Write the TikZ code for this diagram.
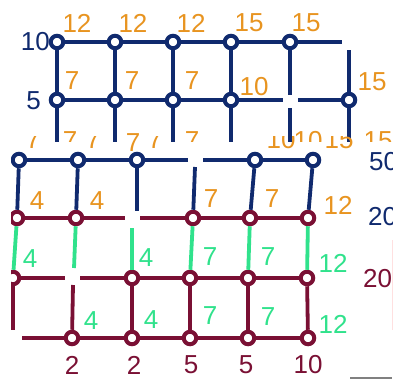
\documentclass[tikz,border=0pt]{standalone}
\usepackage{fontspec}
\setmainfont{Liberation Sans}
\definecolor{gridblue}{RGB}{16,42,110}
\definecolor{numorange}{RGB}{232,148,32}
\definecolor{numgreen}{RGB}{48,226,140}
\definecolor{gridred}{RGB}{122,16,52}
\tikzset{
  dot/.style={circle,draw,fill=white,line width=4pt,inner sep=0pt,minimum size=12.5pt},
  num/.style={font=\fontsize{26}{26}\selectfont,inner sep=0pt},
  wire/.style={line width=3.8pt},
}
\begin{document}
\begin{tikzpicture}[x=1pt,y=-1pt]
  \useasboundingbox[fill=white] (0,0) rectangle (395,383);
  % upper grid
  \begin{scope}
    \clip (0,0) rectangle (395,141);
    \node[dot,draw=gridblue] (t11) at (57,42) {};
    \node[dot,draw=gridblue] (t12) at (115,42) {};
    \node[dot,draw=gridblue] (t13) at (173,42) {};
    \node[dot,draw=gridblue] (t14) at (231,42) {};
    \node[dot,draw=gridblue] (t15) at (290,42) {};
    \node[dot,draw=gridblue] (t21) at (57,100) {};
    \node[dot,draw=gridblue] (t22) at (115,100) {};
    \node[dot,draw=gridblue] (t23) at (173,100) {};
    \node[dot,draw=gridblue] (t24) at (231,100) {};
    \node[dot,draw=gridblue] (t26) at (349,100) {};
    \coordinate (t1e) at (342,42);
    \coordinate (t2g) at (283,100);
    \coordinate (t2h) at (298,100);
    \coordinate (t5a) at (290,95);
    \coordinate (t5b) at (290,108);
    \coordinate (t6a) at (349,50);
    \foreach \i/\x in {1/57,2/115,3/173,4/231,5/290,6/349}
      \coordinate (t3\i) at (\x,150);
    \draw[wire,gridblue] (t11) -- (t12) -- (t13) -- (t14) -- (t15) -- (t1e);
    \draw[wire,gridblue] (t21) -- (t22) -- (t23) -- (t24) -- (t2g);
    \draw[wire,gridblue] (t2h) -- (t26);
    \foreach \i in {1,...,4}
      \draw[wire,gridblue] (t1\i) -- (t2\i) -- (t3\i);
    \draw[wire,gridblue] (t15) -- (t5a);
    \draw[wire,gridblue] (t5b) -- (t35);
    \draw[wire,gridblue] (t6a) -- (t26) -- (t36);
    % row labels
    \node[num,text=gridblue,anchor=east] (r10) at (50,42) {10};
    \node[num,text=gridblue,anchor=east] (r5) at (41,101) {5};
    \foreach \x/\t [count=\k] in {77/12,133/12,191/12,249/15,306/15}
      \node[num,text=numorange] (up\k) at (\x,23) {\t};
    \foreach \x/\y/\t [count=\k] in {72/81/7,132/81/7,192/81/7,254/87/10,372/82/15}
      \node[num,text=numorange] (mid\k) at (\x,\y) {\t};
    \foreach \x/\t [count=\k] in {70/7,192/7,308/10,378/15}
      \node[num,text=numorange] (low\k) at (\x,141) {\t};
  \end{scope}
  \node[num,text=numorange] (low5) at (133,143) {7};
  % pieces of hidden labels
  \begin{scope}
    \clip (0,136) rectangle (360,155);
    \foreach \x/\t [count=\k] in {33/7,93/7,155/7,281/10,339/15}
      \node[num,text=numorange] (cut\k) at (\x,140) {\t};
  \end{scope}
  % lower grid
  \begin{scope}
    \clip (11,141) rectangle (392,383);
    \node[dot,draw=gridblue] (a1) at (19,160) {};
    \node[dot,draw=gridblue] (a2) at (78,160) {};
    \node[dot,draw=gridblue] (a3) at (137,160) {};
    \node[dot,draw=gridblue] (a5) at (255,160) {};
    \node[dot,draw=gridblue] (a6) at (313,160) {};
    \node[dot,draw=gridred] (b1) at (17,218) {};
    \node[dot,draw=gridred] (b2) at (76,218) {};
    \node[dot,draw=gridred] (b4) at (193,218) {};
    \node[dot,draw=gridred] (b5) at (250,218) {};
    \node[dot,draw=gridred] (b6) at (308,218) {};
    \node[dot,draw=gridred] (c1) at (13,278) {};
    \node[dot,draw=gridred] (c3) at (132,278) {};
    \node[dot,draw=gridred] (c4) at (190,278) {};
    \node[dot,draw=gridred] (c5) at (248,278) {};
    \node[dot,draw=gridred] (c6) at (307,278) {};
    \node[dot,draw=gridred] (d2) at (72,338) {};
    \node[dot,draw=gridred] (d3) at (132,338) {};
    \node[dot,draw=gridred] (d4) at (190,338) {};
    \node[dot,draw=gridred] (d5) at (248,338) {};
    \node[dot,draw=gridred] (d6) at (308,338) {};
    \coordinate (ag1) at (188,160);
    \coordinate (ag2) at (203,160);
    \coordinate (av3) at (137,211);
    \coordinate (av4) at (195,167);
    \coordinate (bg1) at (125,218);
    \coordinate (bg2) at (140,218);
    \coordinate (cv2) at (74,268);
    \coordinate (cv3) at (132,228);
    \coordinate (cg1) at (65,278);
    \coordinate (cg2) at (80,278);
    \coordinate (dv1) at (13,330);
    \coordinate (dv2) at (73,285);
    \coordinate (dg) at (22,338);
    % rows
    \draw[wire,gridblue] (a1) -- (a2) -- (a3) -- (ag1);
    \draw[wire,gridblue] (ag2) -- (a5) -- (a6);
    \draw[wire,gridred] (b1) -- (b2) -- (bg1);
    \draw[wire,gridred] (bg2) -- (b4) -- (b5) -- (b6);
    \draw[wire,gridred] (c1) -- (cg1);
    \draw[wire,gridred] (cg2) -- (c3) -- (c4) -- (c5) -- (c6);
    \draw[wire,gridred] (dg) -- (d2) -- (d3) -- (d4) -- (d5) -- (d6);
    % columns
    \draw[wire,gridblue] (a1) -- (b1);
    \draw[wire,gridblue] (a2) -- (b2);
    \draw[wire,gridblue] (a3) -- (av3);
    \draw[wire,gridblue] (av4) -- (b4);
    \draw[wire,gridblue] (a5) -- (b5);
    \draw[wire,gridblue] (a6) -- (b6);
    \draw[wire,numgreen] (b1) -- (c1);
    \draw[wire,numgreen] (b2) -- (cv2);
    \draw[wire,numgreen] (cv3) -- (c3);
    \draw[wire,numgreen] (b4) -- (c4);
    \draw[wire,numgreen] (b5) -- (c5);
    \draw[wire,numgreen] (b6) -- (c6);
    \draw[wire,gridred] (c1) -- (dv1);
    \draw[wire,gridred] (dv2) -- (d2);
    \foreach \i in {3,...,6}
      \draw[wire,gridred] (c\i) -- (d\i);
    % labels
    \foreach \x/\y/\t [count=\k] in {37/201/4,97/201/4,211/199/7,272/199/7,338/205/12}
      \node[num,text=numorange] (ob\k) at (\x,\y) {\t};
    \foreach \x/\y/\t [count=\k] in {30/259/4,146/258/4,210/257/7,268/257/7,333/263/12}
      \node[num,text=numgreen] (gc\k) at (\x,\y) {\t};
    \foreach \x/\y/\t [count=\k] in {91/321/4,151/320/4,210/316/7,268/317/7,333/324/12}
      \node[num,text=numgreen] (gd\k) at (\x,\y) {\t};
    \foreach \x/\t [count=\k] in {72/2,134/2,191/5,246/5,308/10}
      \node[num,text=gridred] (bot\k) at (\x,365) {\t};
    \node[num,text=gridblue,anchor=west] (s50) at (369,162) {50};
    \node[num,text=gridblue,anchor=west] (s20) at (368,217) {20};
    \node[num,text=gridred,anchor=west] (s20b) at (363,279) {20};
  \end{scope}
  \draw[red!12,line width=0.8pt] (392,240) -- (392,330);
  \draw[gray,line width=1.2pt] (350,378) -- (392,378);
\end{tikzpicture}
\end{document}
